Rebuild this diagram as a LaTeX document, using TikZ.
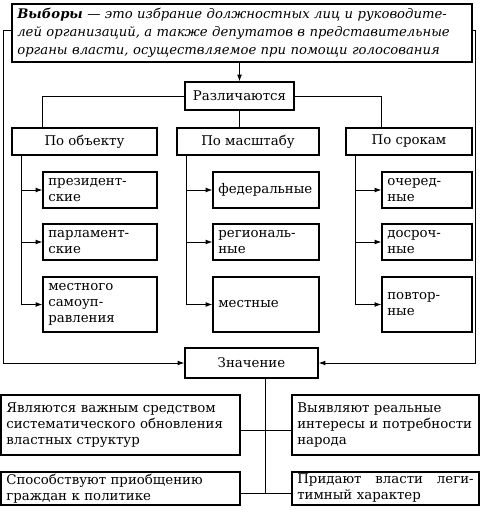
\documentclass[tikz,border=0pt]{standalone}
\usepackage{fontspec}
\setmainfont{DejaVu Serif}
\usetikzlibrary{arrows.meta}

\tikzset{
	box/.style={draw, line width=0.9pt, inner xsep=4pt, inner ysep=0pt, font=\fontsize{10}{12}\selectfont},
	leaf/.style={box, align=left, text width=#1},
	link/.style={line width=0.6pt},
	>={Latex[length=5pt,width=3.5pt]}
}

\begin{document}
\begin{tikzpicture}[x=0.75pt,y=-0.75pt]
\useasboundingbox (0,0) rectangle (480,516);

%definition
\node[box, minimum width=345pt, minimum height=43.5pt, align=left, text width=337pt, font=\fontsize{9.9}{13.5}\selectfont\itshape] (def) at (242,33)
	{\makebox[\linewidth][s]{\textbf{Выборы} — это избрание должностных лиц и руководите-}\\
	 \makebox[\linewidth][s]{лей организаций, а также депутатов в представительные}\\
	 органы власти, осуществляемое при помощи голосования};

\node[box, minimum width=81.75pt, minimum height=21pt] (diff) at (239.5,96) {Различаются};

%level 2
\node[box, minimum width=108.75pt, minimum height=20.25pt] (obj) at (84.5,141.5) {По объекту};
\node[box, minimum width=106.5pt, minimum height=20.25pt] (scale) at (248,141.5) {По масштабу};
\node[box, minimum width=94.5pt, minimum height=20.25pt] (term) at (409,141.5) {По срокам};

%by object
\node[leaf=77.5pt, minimum height=27pt] (pres) at (100,190) {президент-\\ские};
\node[leaf=77.5pt, minimum height=27pt] (parl) at (100,242) {парламент-\\ские};
\node[leaf=77.5pt, minimum height=41.25pt] (self) at (100,304.5) {местного\\ самоуп-\\ равления};

%by scale
\node[leaf=71.5pt, minimum height=27pt] (fed) at (266,190) {федеральные};
\node[leaf=71.5pt, minimum height=27pt] (reg) at (266,242) {региональ-\\ные};
\node[leaf=71.5pt, minimum height=41.25pt] (loc) at (266,304.5) {местные};

%by term
\node[leaf=59.5pt, minimum height=27pt] (ord) at (427,190) {очеред-\\ные};
\node[leaf=59.5pt, minimum height=27pt] (early) at (427,242) {досроч-\\ные};
\node[leaf=59.5pt, minimum height=41.25pt] (rep) at (427,304.5) {повтор-\\ные};

\node[box, minimum width=99.75pt, minimum height=22.5pt] (mean) at (251.5,363) {Значение};

%meaning
\node[leaf=171.25pt, minimum height=45pt] (renew) at (120.5,425) {Являются важным средством\\ систематического обновления\\ властных структур};
\node[leaf=132.25pt, minimum height=45pt] (need) at (385.5,425) {Выявляют реальные\\ интересы и потребности\\ народа};
\node[leaf=171.25pt, minimum height=24.75pt] (join) at (120.5,488.5) {Способствуют приобщению\\ граждан к политике};
\node[leaf=132.25pt, minimum height=24.75pt] (legit) at (385.5,488.5) {Придают\hfill власти\hfill леги-\\ тимный характер};

%links
\draw[link,->] (diff.north |- def.south) -- (diff.north);
\draw[link] (diff.west) -| (pres.west |- obj.north);
\draw[link] (diff.east) -| (ord.west |- term.north);
\draw[link] (diff.south) -- (diff.south |- scale.north);

\coordinate (t1) at (21,0);
\coordinate (t2) at (186,0);
\coordinate (t3) at (355,0);
\draw[link] (t1 |- obj.south) -- (t1 |- self.west);
\draw[link] (t2 |- scale.south) -- (t2 |- loc.west);
\draw[link] (t3 |- term.south) -- (t3 |- rep.west);
\foreach \n in {pres,parl,self}
	\draw[link,->] (t1 |- \n.west) -- (\n.west);
\foreach \n in {fed,reg,loc}
	\draw[link,->] (t2 |- \n.west) -- (\n.west);
\foreach \n in {ord,early,rep}
	\draw[link,->] (t3 |- \n.west) -- (\n.west);

%outer
\coordinate (ol) at (3,30);
\coordinate (or) at (475,30);
\draw[link,->] (def.west |- ol) -- (ol) |- (mean.west);
\draw[link,->] (def.east |- or) -- (or) |- (mean.east);

%bottom
\coordinate (mt) at (265,0);
\coordinate (up) at ([yshift=-3.75pt]renew.east);
\coordinate (low) at ([yshift=-3.4pt]join.east);
\draw[link] (mt |- mean.south) -- (mt |- low);
\draw[link] (up) -- (up -| need.west);
\draw[link] (low) -- (low -| legit.west);

\end{tikzpicture}
\end{document}
